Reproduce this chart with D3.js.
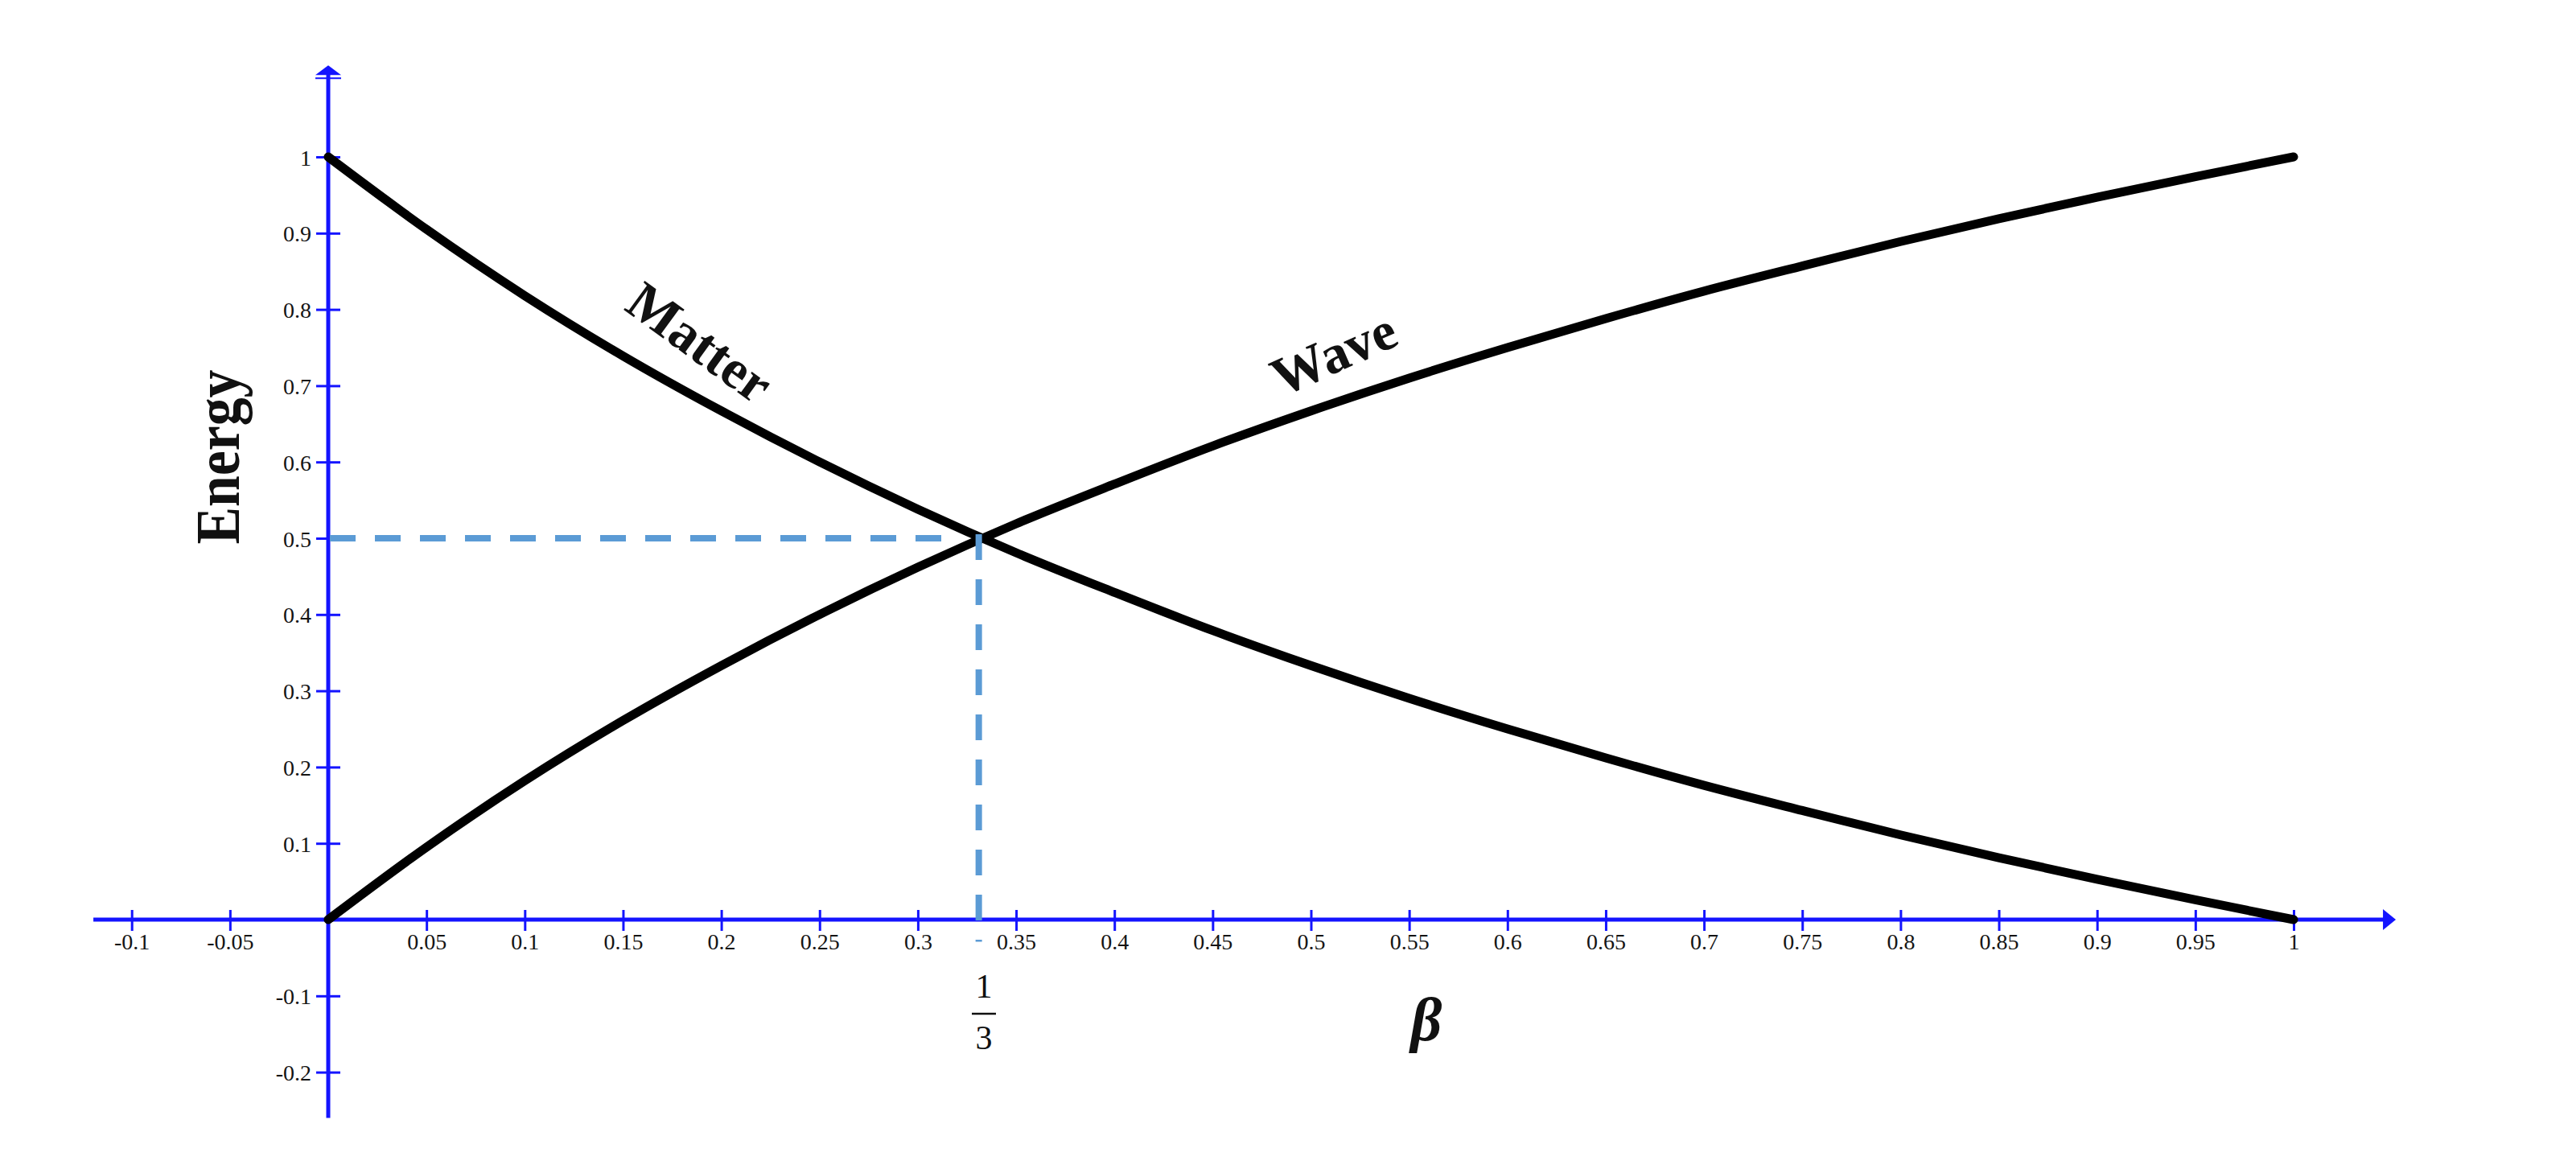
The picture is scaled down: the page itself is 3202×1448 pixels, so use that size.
<!DOCTYPE html>
<html>
<head>
<meta charset="utf-8">
<script src="https://cdn.jsdelivr.net/npm/d3@7"></script>
<style>
  html, body { margin: 0; padding: 0; background: #ffffff; }
  svg { display: block; }
</style>
</head>
<body>
<svg id="chart" width="3202" height="1448"></svg>
<script>
// ---------------- data ----------------
const beta = [0, 0.05, 0.1, 0.15, 0.2, 0.25, 0.3, 0.35, 0.4, 0.45, 0.5,
              0.55, 0.6, 0.65, 0.7, 0.75, 0.8, 0.85, 0.9, 0.95, 1];
const matterEnergy = [1, 0.905, 0.818, 0.739, 0.667, 0.6, 0.538, 0.481, 0.429, 0.379, 0.333,
                      0.29, 0.25, 0.212, 0.176, 0.143, 0.111, 0.081, 0.053, 0.026, 0];
const waveEnergy = [0, 0.095, 0.182, 0.261, 0.333, 0.4, 0.462, 0.519, 0.571, 0.621, 0.667,
                    0.71, 0.75, 0.788, 0.824, 0.857, 0.889, 0.919, 0.947, 0.974, 1];
const crossing = { beta: 0.331, energy: 0.5 };
const xTickValues = [-0.1, -0.05, 0.05, 0.1, 0.15, 0.2, 0.25, 0.3, 0.35, 0.4, 0.45, 0.5,
                     0.55, 0.6, 0.65, 0.7, 0.75, 0.8, 0.85, 0.9, 0.95, 1];
const xTickLabels = ["-0.1", "-0.05", "0.05", "0.1", "0.15", "0.2", "0.25", "0.3", "0.35", "0.4",
                     "0.45", "0.5", "0.55", "0.6", "0.65", "0.7", "0.75", "0.8", "0.85", "0.9", "0.95", "1"];
const yTickValues = [-0.2, -0.1, 0.1, 0.2, 0.3, 0.4, 0.5, 0.6, 0.7, 0.8, 0.9, 1];
const yTickLabels = ["-0.2", "-0.1", "0.1", "0.2", "0.3", "0.4", "0.5", "0.6", "0.7", "0.8", "0.9", "1"];
const xExtent = [-0.1195, 1.052];
const yExtent = [-0.26, 1.12];

// ---------------- setup ----------------
const svg = d3.select("#chart");
const AXIS = "#1414ff";
const DASH = "#5b9bd5";
const x = d3.scaleLinear().domain([0, 1]).range([408, 2851]);
const y = d3.scaleLinear().domain([0, 1]).range([1143, 195]);

// ---------------- axes ----------------
const xAxis = d3.axisBottom(x)
  .tickValues(xTickValues)
  .tickFormat((d, i) => xTickLabels[i])
  .tickSize(14);
const gx = svg.append("g").attr("transform", `translate(0,${y(0)})`).call(xAxis);
gx.select(".domain").remove();
gx.selectAll(".tick line").attr("y1", -12).attr("y2", 14)
  .attr("stroke", AXIS).attr("stroke-width", 3);
gx.selectAll(".tick text").attr("y", 37).attr("dy", "0")
  .attr("fill", "#141414")
  .style("font-family", "'Liberation Serif', 'Times New Roman', serif")
  .style("font-size", "28px");

const yAxis = d3.axisLeft(y)
  .tickValues(yTickValues)
  .tickFormat((d, i) => yTickLabels[i])
  .tickSize(15);
const gy = svg.append("g").attr("transform", `translate(${x(0)},0)`).call(yAxis);
gy.select(".domain").remove();
gy.selectAll(".tick line").attr("x1", 15).attr("x2", -15)
  .attr("stroke", AXIS).attr("stroke-width", 3);
gy.selectAll(".tick text").attr("x", -21).attr("dy", "0.36em")
  .attr("fill", "#141414")
  .style("font-family", "'Liberation Serif', 'Times New Roman', serif")
  .style("font-size", "28px");

// main axis lines with arrows
svg.append("line")
  .attr("x1", x(xExtent[0])).attr("x2", x(xExtent[1]) - 14)
  .attr("y1", y(0)).attr("y2", y(0))
  .attr("stroke", AXIS).attr("stroke-width", 5);
svg.append("path")
  .attr("d", `M${x(xExtent[1])},${y(0)} L${x(xExtent[1]) - 16},${y(0) - 13} L${x(xExtent[1]) - 16},${y(0) + 13} Z`)
  .attr("fill", AXIS);

svg.append("line")
  .attr("x1", x(0)).attr("x2", x(0))
  .attr("y1", y(yExtent[0])).attr("y2", y(yExtent[1]) + 10)
  .attr("stroke", AXIS).attr("stroke-width", 5);
svg.append("path")
  .attr("d", `M${x(0)},${y(yExtent[1])} L${x(0) - 16},${y(yExtent[1]) + 12} L${x(0) + 16},${y(yExtent[1]) + 12} Z`)
  .attr("fill", AXIS);
svg.append("line")
  .attr("x1", x(0) - 16).attr("x2", x(0) + 16)
  .attr("y1", y(yExtent[1]) + 16).attr("y2", y(yExtent[1]) + 16)
  .attr("stroke", AXIS).attr("stroke-width", 2);

// ---------------- curves ----------------
const line = d3.line()
  .x(d => x(d[0]))
  .y(d => y(d[1]))
  .curve(d3.curveCatmullRom.alpha(0.5));

svg.append("path")
  .datum(beta.map((b, i) => [b, matterEnergy[i]]))
  .attr("d", line)
  .attr("fill", "none").attr("stroke", "#000")
  .attr("stroke-width", 11).attr("stroke-linecap", "round");

svg.append("path")
  .datum(beta.map((b, i) => [b, waveEnergy[i]]))
  .attr("d", line)
  .attr("fill", "none").attr("stroke", "#000")
  .attr("stroke-width", 11).attr("stroke-linecap", "round");

// ---------------- dashed guides ----------------
svg.append("line")
  .attr("x1", x(0) + 2).attr("x2", x(crossing.beta) - 28)
  .attr("y1", y(crossing.energy)).attr("y2", y(crossing.energy))
  .attr("stroke", DASH).attr("stroke-width", 8)
  .attr("stroke-dasharray", "32 24");
svg.append("line")
  .attr("x1", x(crossing.beta)).attr("x2", x(crossing.beta))
  .attr("y1", y(crossing.energy) - 5).attr("y2", y(-0.029))
  .attr("stroke", DASH).attr("stroke-width", 8)
  .attr("stroke-dasharray", "32 24");

// ---------------- labels ----------------
const serif = "'Liberation Serif', 'Times New Roman', serif";

svg.append("text")
  .attr("transform", "translate(870,426) rotate(36)")
  .attr("text-anchor", "middle").attr("dy", "0.33em")
  .style("font-family", serif).style("font-weight", "bold").style("font-size", "68px")
  .attr("fill", "#111")
  .text("Matter");

svg.append("text")
  .attr("transform", "translate(1658,440) rotate(-24)")
  .attr("text-anchor", "middle").attr("dy", "0.33em")
  .style("font-family", serif).style("font-weight", "bold").style("font-size", "68px")
  .attr("fill", "#111")
  .text("Wave");

svg.append("text")
  .attr("transform", "translate(297,568) rotate(-90)")
  .attr("text-anchor", "middle")
  .attr("textLength", 217).attr("lengthAdjust", "spacingAndGlyphs")
  .style("font-family", serif).style("font-weight", "bold").style("font-size", "78px")
  .attr("fill", "#111")
  .text("Energy");

svg.append("text")
  .attr("x", 1773).attr("y", 1293)
  .attr("text-anchor", "middle")
  .style("font-family", serif).style("font-weight", "bold").style("font-style", "italic")
  .style("font-size", "76px")
  .attr("fill", "#111")
  .text("β");

// fraction 1/3
svg.append("text")
  .attr("x", 1223).attr("y", 1240)
  .attr("text-anchor", "middle")
  .style("font-family", serif).style("font-size", "42px")
  .attr("fill", "#111")
  .text("1");
svg.append("line")
  .attr("x1", 1208).attr("x2", 1238)
  .attr("y1", 1260).attr("y2", 1260)
  .attr("stroke", "#111").attr("stroke-width", 2.5);
svg.append("text")
  .attr("x", 1223).attr("y", 1304)
  .attr("text-anchor", "middle")
  .style("font-family", serif).style("font-size", "42px")
  .attr("fill", "#111")
  .text("3");
</script>
</body>
</html>
